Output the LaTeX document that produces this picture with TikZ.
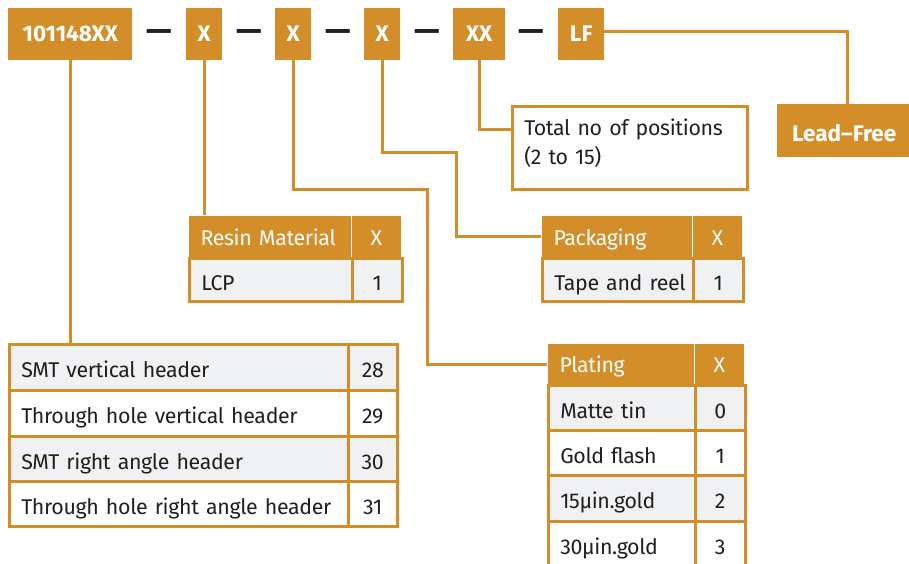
\documentclass[tikz,border=0pt]{standalone}
\usepackage{fontspec}
\setmainfont{Fira Sans}
\newfontfamily\bodyfam{Fira Sans}[LetterSpace=-1.6, WordSpace=0.8]
\definecolor{org}{HTML}{D38E2A}
\definecolor{rowg}{HTML}{F0F1F3}
\definecolor{ink}{HTML}{231F20}
\newcommand{\bodyfs}{\bodyfam\fontsize{21.35}{29}\selectfont}
\newcommand{\boldfs}{\fontsize{22.5}{26}\selectfont\bfseries}
\begin{document}
\begin{tikzpicture}[x=1pt,y=-1pt,
  topbox/.style={fill=org, text=white, font=\boldfs, anchor=north west, inner sep=0, minimum height=52, text height=15, text depth=0},
  dashtxt/.style={text=ink, font=\fontsize{32}{32}\selectfont\bfseries, inner sep=0, anchor=base},
  cellbase/.style={anchor=north west, font=\bodyfs, inner ysep=0},
  hcell/.style={cellbase, fill=org, draw=white, line width=1pt, text=white, inner xsep=0, text height=17, text depth=0},
  bcell/.style={cellbase, draw=org, line width=2.5pt, text=ink, inner xsep=0, text height=21, text depth=0},
  gcell/.style={bcell, fill=rowg},
  wcell/.style={bcell, fill=white},
  lft/.style={text width=#1, align=left, execute at begin node={\hspace*{12pt}}},
  conn/.style={draw=org, line width=3pt}
]
\useasboundingbox (0,0) rectangle (909,563);

% top code boxes
\node[topbox, minimum width=124] (n101) at (8,8) {101148XX};
\node[topbox, minimum width=36] (x1) at (186,8) {X};
\node[topbox, minimum width=36] (x2) at (275,8) {X};
\node[topbox, minimum width=36] (x3) at (364,8) {X};
\node[topbox, minimum width=52] (xx) at (453,8) {XX};
\node[topbox, minimum width=46] (lf) at (558,8) {LF};
\node[dashtxt] (d1) at (159,41) {—};
\node[dashtxt] (d2) at (249,41) {—};
\node[dashtxt] (d3) at (338,41) {—};
\node[dashtxt] (d4) at (427,41) {—};
\node[dashtxt] (d5) at (531,41) {—};

% lead free
\node[topbox, minimum width=134, minimum height=53, text height=22] (lead) at (777,104) {Lead–Free};

% total positions box
\node[draw=org, line width=2.5pt, fill=white, text=ink, font=\bodyfs, anchor=north west, minimum width=235, minimum height=83, text width=211, inner xsep=12, text depth=40.5, align=left] (tot) at (511,105) {Total no of positions\\(2 to 15)};

% resin table
\node[hcell, lft=163, minimum height=42] (r1) at (188,215) {Resin Material};
\node[hcell, minimum width=50, minimum height=42] (r1b) at (351,215) {X};
\node[gcell, lft=163, minimum height=43] (r2) at (188,257) {LCP};
\node[gcell, minimum width=50, minimum height=43] (r2b) at (351,257) {1};

% packaging table
\node[hcell, lft=151, minimum height=42] (k1) at (541,215) {Packaging};
\node[hcell, minimum width=50, minimum height=42] (k1b) at (692,215) {X};
\node[gcell, lft=151, minimum height=43] (k2) at (541,257) {Tape and reel};
\node[gcell, minimum width=50, minimum height=43] (k2b) at (692,257) {1};

% SMT table
\node[gcell, lft=339, minimum height=46] (s1) at (8,343) {SMT vertical header};
\node[gcell, minimum width=49, minimum height=46] (s1b) at (347,343) {28};
\node[wcell, lft=339, minimum height=46] (s2) at (8,389) {Through hole vertical header};
\node[wcell, minimum width=49, minimum height=46] (s2b) at (347,389) {29};
\node[gcell, lft=339, minimum height=45] (s3) at (8,435) {SMT right angle header};
\node[gcell, minimum width=49, minimum height=45] (s3b) at (347,435) {30};
\node[wcell, lft=339, minimum height=45] (s4) at (8,480) {Through hole right angle header};
\node[wcell, minimum width=49, minimum height=45] (s4b) at (347,480) {31};

% plating table
\node[hcell, lft=147, minimum height=41] (p1) at (547,343) {Plating};
\node[hcell, minimum width=50, minimum height=41] (p1b) at (694,343) {X};
\node[gcell, lft=147, minimum height=45] (p2) at (547,384) {Matte tin};
\node[gcell, minimum width=50, minimum height=45] (p2b) at (694,384) {0};
\node[wcell, lft=147, minimum height=45] (p3) at (547,429) {Gold flash};
\node[wcell, minimum width=50, minimum height=45] (p3b) at (694,429) {1};
\node[gcell, lft=147, minimum height=46] (p4) at (547,474) {15µin.gold};
\node[gcell, minimum width=50, minimum height=46] (p4b) at (694,474) {2};
\node[wcell, lft=147, minimum height=46] (p5) at (547,520) {30µin.gold};
\node[wcell, minimum width=50, minimum height=46] (p5b) at (694,520) {3};

% connectors
\coordinate (c2) at (427,189);
\coordinate (c3) at (456,152);
\draw[conn] (n101.south) -- (n101.south |- s1.north);
\draw[conn] (x1.south) -- (x1.south |- r1.north);
\draw[conn] (x2.south) |- (c2) |- (p1.west);
\draw[conn] (x3.south) |- (c3) |- (k1.west);
\draw[conn] (xx.south) |- ([yshift=18.5pt]tot.west);
\draw[conn] ([yshift=3pt]lf.east) -| ([xshift=3pt]lead.north);
\end{tikzpicture}
\end{document}
